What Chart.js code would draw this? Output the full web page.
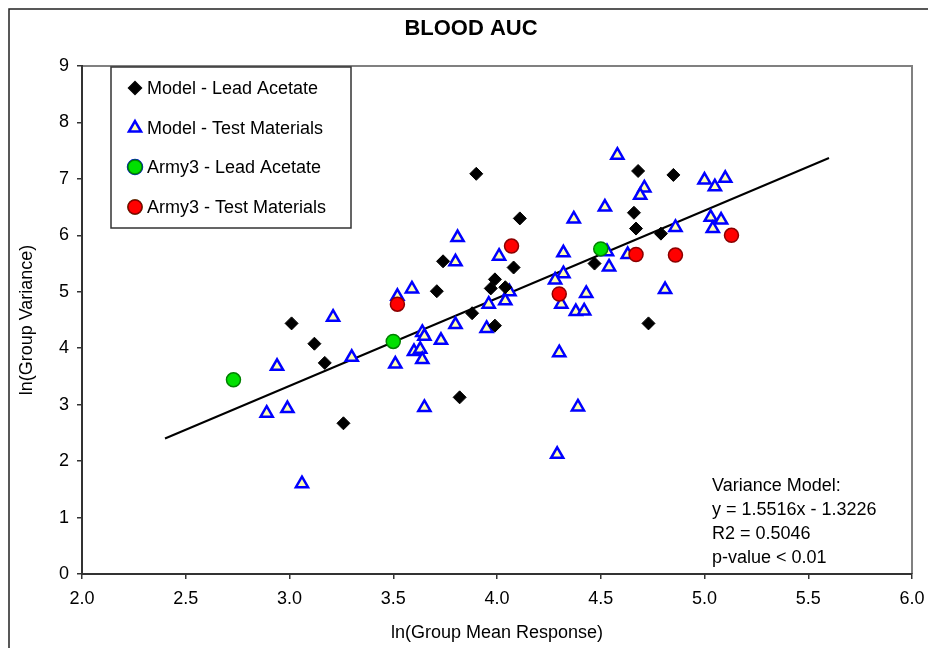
<!DOCTYPE html>
<html>
<head>
<meta charset="utf-8">
<title>BLOOD AUC</title>
<script src="https://cdn.jsdelivr.net/npm/chart.js@4/dist/chart.umd.min.js"></script>
<style>
  html, body { margin: 0; padding: 0; background: #fff; }
  #wrap { width: 928px; height: 648px; }
</style>
</head>
<body>
<div id="wrap"><canvas id="chart" width="928" height="648"></canvas></div>
<script>
// values
const modelLeadX = [3.01, 3.12, 3.17, 3.26, 3.90, 4.11, 3.74, 4.08, 3.99, 3.97, 4.04,
    3.71, 3.88, 3.99, 3.82, 4.68, 4.85, 4.66, 4.67, 4.79, 4.47, 4.73];
const modelLeadY = [4.44, 4.08, 3.74, 2.67, 7.09, 6.30, 5.54, 5.43, 5.22, 5.06, 5.08,
    5.01, 4.62, 4.40, 3.13, 7.14, 7.07, 6.40, 6.12, 6.03, 5.50, 4.44];

const modelTestX = [3.21, 3.30, 2.94, 2.89, 2.99, 3.06, 3.81, 3.80, 4.01, 4.06, 3.59,
    3.52, 3.96, 4.04, 3.51, 3.64, 3.65, 3.60, 3.63, 3.64, 3.73, 3.80, 3.95, 3.65,
    4.58, 5.00, 5.05, 5.10, 4.71, 4.69, 4.52, 4.37, 4.86, 5.03, 5.04, 5.08, 4.53,
    4.63, 4.32, 4.54, 4.32, 4.28, 4.43, 4.81, 4.31, 4.38, 4.42, 4.30, 4.39, 4.29];
const modelTestY = [4.55, 3.84, 3.68, 2.85, 2.93, 1.60, 5.96, 5.53, 5.63, 5.00, 5.05,
    4.92, 4.78, 4.84, 3.72, 4.28, 4.21, 3.94, 3.98, 3.80, 4.14, 4.42, 4.35, 2.95,
    7.42, 6.98, 6.86, 7.01, 6.84, 6.71, 6.50, 6.29, 6.14, 6.32, 6.12, 6.27, 5.71,
    5.66, 5.69, 5.44, 5.32, 5.21, 4.97, 5.04, 4.78, 4.65, 4.66, 3.92, 2.96, 2.12];

const armyLeadX = [2.73, 3.50, 4.50];
const armyLeadY = [3.44, 4.12, 5.76];

const armyTestX = [3.52, 4.07, 4.30, 4.67, 4.86, 5.13];
const armyTestY = [4.78, 5.81, 4.96, 5.66, 5.65, 6.00];

// fitted line, ends as drawn
const trendX = [2.4, 5.6];
const trendY = [2.40, 7.37];

const xTicks = [2.0, 2.5, 3.0, 3.5, 4.0, 4.5, 5.0, 5.5, 6.0];
const yTicks = [0, 1, 2, 3, 4, 5, 6, 7, 8, 9];

const noteLines = ['Variance Model:', 'y = 1.5516x - 1.3226', 'R2 = 0.5046', 'p-value < 0.01'];

const FONT = '"Liberation Sans", Arial, sans-serif';

function toPoints(xs, ys) {
    return xs.map((x, i) => ({ x: x, y: ys[i] }));
}

const frame = {
    id: 'frame',
    beforeDraw(chart) {
        const ctx = chart.ctx;
        const a = chart.chartArea;
        ctx.save();
        // outer chart border (left + top only, rest is cut off)
        ctx.strokeStyle = '#222';
        ctx.lineWidth = 1.5;
        ctx.beginPath();
        ctx.moveTo(9, 648);
        ctx.lineTo(9, 9);
        ctx.lineTo(928, 9);
        ctx.stroke();
        // plot area top and right edges
        ctx.strokeStyle = '#808080';
        ctx.lineWidth = 2;
        ctx.beginPath();
        ctx.moveTo(a.left, a.top);
        ctx.lineTo(a.right, a.top);
        ctx.lineTo(a.right, a.bottom);
        ctx.stroke();
        // title
        ctx.fillStyle = '#000';
        ctx.font = 'bold 22px ' + FONT;
        ctx.textAlign = 'center';
        ctx.textBaseline = 'middle';
        ctx.fillText('BLOOD AUC', 471, 29);
        ctx.restore();
    },
    afterDatasetsDraw(chart) {
        const ctx = chart.ctx;
        ctx.save();
        // legend box
        ctx.fillStyle = '#fff';
        ctx.fillRect(111, 67, 240, 161);
        ctx.strokeStyle = '#333';
        ctx.lineWidth = 1.5;
        ctx.strokeRect(111, 67, 240, 161);
        const rows = [88, 128, 167, 207];
        ctx.font = '18px ' + FONT;
        ctx.textAlign = 'left';
        ctx.textBaseline = 'middle';
        chart.data.datasets.slice(0, 4).forEach((ds, i) => {
            Chart.helpers.drawPoint(ctx, {
                pointStyle: ds.pointStyle,
                radius: ds.pointRadius,
                borderWidth: ds.borderWidth,
                rotation: 0
            }, 135, rows[i]);
            ctx.fillStyle = ds.backgroundColor;
            ctx.strokeStyle = ds.borderColor;
            ctx.lineWidth = ds.borderWidth;
            ctx.fill();
            ctx.stroke();
            ctx.fillStyle = '#000';
            ctx.fillText(ds.label, 147, rows[i] + 1);
        });
        // regression note
        noteLines.forEach((t, i) => {
            ctx.fillText(t, 712, 486 + i * 24);
        });
        ctx.restore();
    }
};

new Chart(document.getElementById('chart'), {
    type: 'scatter',
    data: {
        datasets: [
            {
                label: 'Model - Lead Acetate',
                data: toPoints(modelLeadX, modelLeadY),
                pointStyle: 'rectRot',
                pointRadius: 6.5,
                borderWidth: 1,
                backgroundColor: '#000000',
                borderColor: '#000000',
                order: 2
            },
            {
                label: 'Model - Test Materials',
                data: toPoints(modelTestX, modelTestY),
                pointStyle: 'triangle',
                pointRadius: 7,
                borderWidth: 2.5,
                backgroundColor: '#FFFFB4',
                borderColor: '#0000FF',
                order: 3
            },
            {
                label: 'Army3 - Lead Acetate',
                data: toPoints(armyLeadX, armyLeadY),
                pointStyle: 'circle',
                pointRadius: 7,
                borderWidth: 1.5,
                backgroundColor: '#00E000',
                borderColor: '#008000',
                order: 1
            },
            {
                label: 'Army3 - Test Materials',
                data: toPoints(armyTestX, armyTestY),
                pointStyle: 'circle',
                pointRadius: 7,
                borderWidth: 1.5,
                backgroundColor: '#FF0000',
                borderColor: '#8B0000',
                order: 1
            },
            {
                type: 'line',
                label: 'trend',
                data: toPoints(trendX, trendY),
                borderColor: '#000000',
                borderWidth: 2,
                pointRadius: 0,
                fill: false,
                order: 10
            }
        ]
    },
    options: {
        responsive: false,
        animation: false,
        events: [],
        layout: { padding: { top: 66, right: 16, left: 0, bottom: 0 } },
        plugins: {
            legend: { display: false },
            title: { display: false },
            tooltip: { enabled: false }
        },
        scales: {
            x: {
                type: 'linear',
                min: 2,
                max: 6,
                afterBuildTicks: (axis) => { axis.ticks = xTicks.map(v => ({ value: v })); },
                afterFit: (axis) => {
                    axis.height = 74;
                    axis.paddingLeft = 0;
                    axis.paddingRight = 0;
                },
                grid: { drawOnChartArea: false, drawTicks: true, tickLength: 5, color: '#333', lineWidth: 1.5 },
                border: { display: true, color: '#333', width: 2 },
                ticks: {
                    color: '#000',
                    padding: 9,
                    maxRotation: 0,
                    font: { family: FONT, size: 18 },
                    callback: (v) => Number(v).toFixed(1)
                },
                title: {
                    display: true,
                    text: 'ln(Group Mean Response)',
                    color: '#000',
                    font: { family: FONT, size: 18 },
                    padding: { top: 0, bottom: 4 }
                }
            },
            y: {
                type: 'linear',
                min: 0,
                max: 9,
                afterBuildTicks: (axis) => { axis.ticks = yTicks.map(v => ({ value: v })); },
                afterFit: (axis) => {
                    axis.width = 82;
                    axis.paddingTop = 0;
                    axis.paddingBottom = 0;
                },
                grid: { drawOnChartArea: false, drawTicks: true, tickLength: 5, color: '#333', lineWidth: 1.5 },
                border: { display: true, color: '#333', width: 2 },
                ticks: {
                    color: '#000',
                    padding: 8,
                    font: { family: FONT, size: 18 }
                },
                title: {
                    display: true,
                    text: 'ln(Group Variance)',
                    color: '#000',
                    font: { family: FONT, size: 18 },
                    padding: { top: 16, bottom: 0 }
                }
            }
        }
    },
    plugins: [frame]
});
</script>
</body>
</html>
